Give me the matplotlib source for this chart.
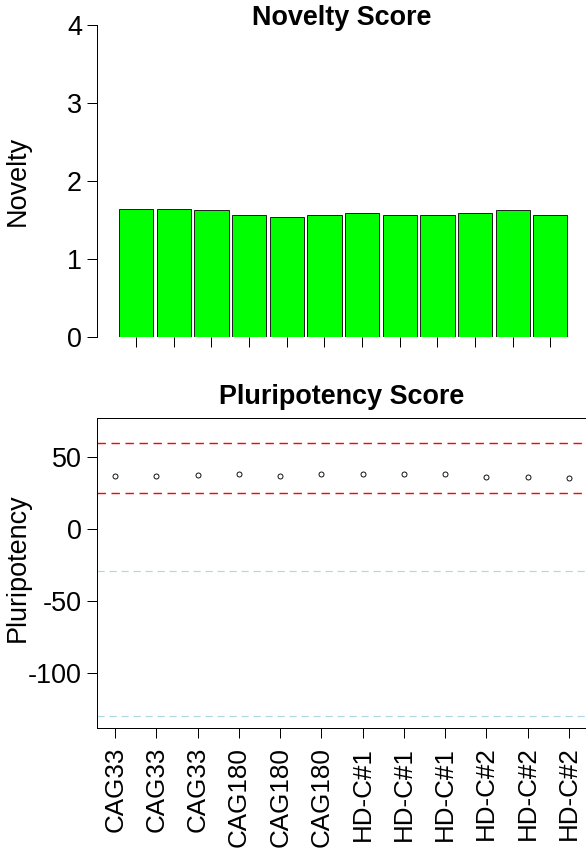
import numpy as np
import matplotlib
matplotlib.use("Agg")
import matplotlib.pyplot as plt

plt.rcParams["font.family"] = ["Liberation Sans", "DejaVu Sans"]
plt.rcParams["axes.unicode_minus"] = False

# Sample names (x axis of the bottom panel)
samples = ["CAG33", "CAG33", "CAG33", "CAG180", "CAG180", "CAG180",
           "HD-C#1", "HD-C#1", "HD-C#1", "HD-C#2", "HD-C#2", "HD-C#2"]

# Values
novelty = [1.645, 1.645, 1.627, 1.563, 1.546, 1.563,
           1.597, 1.563, 1.563, 1.597, 1.627, 1.563]
pluripotency = [37.0, 37.0, 38.0, 38.7, 37.0, 38.7,
                38.7, 38.7, 38.7, 36.1, 36.1, 35.4]

# Threshold lines
red_lines = [60, 25]
blue_lines = [-29, -130]

W, H, DPI = 586, 853, 72
fig = plt.figure(figsize=(W / DPI, H / DPI), dpi=DPI)

def px_axes(left, top, right, bottom):
    return fig.add_axes([left / W, 1 - bottom / H, (right - left) / W, (bottom - top) / H])

FS = 27

# ---- Novelty barplot ----
ax1 = px_axes(97, 25.3, 587, 337.3)
xb = 0.6 + 1.1 * np.arange(len(novelty))
ax1.bar(xb, novelty, width=1.0, color="#00ff00", edgecolor="#222222", linewidth=1.0)
ax1.set_xlim(-0.542, 13.77)
ax1.set_ylim(0, 4)
ax1.set_yticks([0, 1, 2, 3, 4])
ax1.set_xticks(xb)
ax1.set_xticklabels([])
for s in ["top", "right", "bottom"]:
    ax1.spines[s].set_visible(False)
ax1.spines["left"].set_linewidth(1.0)
ax1.tick_params(axis="both", length=10, width=1.0, labelsize=FS, pad=5)
ax1.set_title("Novelty Score", fontsize=FS, fontweight="bold", pad=0, y=1.0)
ax1.set_ylabel("Novelty", fontsize=FS)
ax1.yaxis.set_label_coords((30.7 - 97) / 490, 0.5)

# ---- Pluripotency scatter ----
ax2 = px_axes(97, 417.7, 587, 727.7)
xp = np.arange(1, len(pluripotency) + 1)
for v in red_lines:
    ax2.plot([0.56, 12.44], [v, v], color="red", linewidth=1.4, linestyle=(0, (6, 4)))
for v in blue_lines:
    ax2.plot([0.56, 12.44], [v, v], color="lightblue", linewidth=1.2, linestyle=(0, (6, 4)))
ax2.plot(xp, pluripotency, linestyle="none", marker="o", markersize=5,
         markerfacecolor="none", markeredgecolor="black", markeredgewidth=0.9)
ax2.set_xlim(0.56, 12.44)
ax2.set_ylim(-138, 77.5)
ax2.set_yticks([-100, -50, 0, 50])
ax2.set_xticks(xp)
ax2.set_xticklabels(samples, rotation=90, fontsize=26)
for s in ax2.spines.values():
    s.set_linewidth(1.0)
ax2.tick_params(axis="y", length=10, width=1.0, labelsize=FS, pad=5)
ax2.tick_params(axis="x", length=10, width=1.0, pad=9)
ax2.set_title("Pluripotency Score", fontsize=FS, fontweight="bold", pad=14, y=1.0)
ax2.set_ylabel("Pluripotency", fontsize=FS)
ax2.yaxis.set_label_coords((30.7 - 97) / 490, 0.515)

fig.savefig("out.png", dpi=DPI)
